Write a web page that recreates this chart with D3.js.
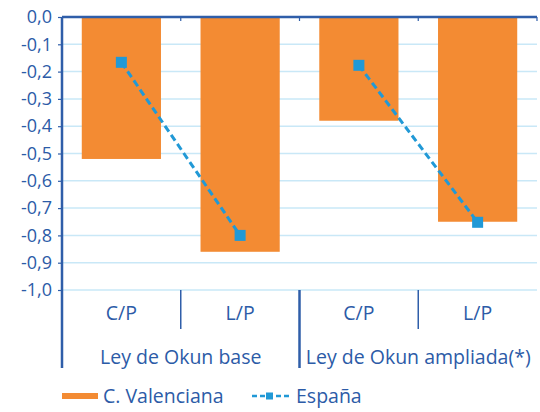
<!DOCTYPE html>
<html>
<head>
<meta charset="utf-8">
<script src="https://cdn.jsdelivr.net/npm/d3@7"></script>
<style>
  body { margin: 0; background: #fff; }
  text { font-family: "Open Sans", Lato, sans-serif; fill: #2c5ba7; }
</style>
</head>
<body>
<div id="vis"></div>
<script>
// data
const groups = ["Ley de Okun base", "Ley de Okun ampliada(*)"];
const periods = ["C/P", "L/P"];
const valenciana = [-0.52, -0.86, -0.38, -0.75];
const espana = [-0.166, -0.80, -0.177, -0.752];
const seriesNames = ["C. Valenciana", "España"];

function drawChart() {

    // ----------------
    // 1. Dimensions
    // ----------------
    const dimensions = {
        width: 540,
        height: 412,
        margin: {top: 17, right: 3, bottom: 122, left: 62}
    };
    dimensions.boundedWidth = dimensions.width - dimensions.margin.left - dimensions.margin.right;
    dimensions.boundedHeight = dimensions.height - dimensions.margin.top - dimensions.margin.bottom;

    const axisColor = "#2f5ea9";
    const gridColor = "#c9e8f7";
    const orange = "#f38b33";
    const blue = "#2199d6";
    const labelSize = 19.5;

    // one key per bar
    const keys = [];
    groups.forEach((g, gi) => periods.forEach((p, pi) => keys.push(gi + "|" + p)));
    const rows = keys.map((k, i) => ({key: k, period: k.split("|")[1], group: +k.split("|")[0], cv: valenciana[i], es: espana[i]}));

    const svg = d3.select("#vis")
        .append("svg")
        .attr("width", dimensions.width)
        .attr("height", dimensions.height);

    const bounds = svg.append("g")
        .attr("transform", `translate(${dimensions.margin.left}, ${dimensions.margin.top})`);

    // ----------------
    // 2. Scales
    // ----------------
    const xScale = d3.scaleBand()
        .domain(keys)
        .range([0, dimensions.boundedWidth])
        .paddingInner(0.333)
        .paddingOuter(0.1665);

    const xOuter = d3.scaleBand()
        .domain(keys)
        .range([0, dimensions.boundedWidth]);

    const yScale = d3.scaleLinear()
        .domain([-1, 0])
        .range([dimensions.boundedHeight, 0]);

    const locale = d3.formatLocale({decimal: ",", thousands: ".", grouping: [3], currency: ["", "€"], minus: "-"});
    const fmt = locale.format(".1f");

    // ----------------
    // 3. Grid + y axis
    // ----------------
    const yTicks = yScale.ticks(10);

    bounds.append("g")
        .selectAll("line")
        .data(yTicks.filter(d => Math.abs(d) > 1e-9))
        .join("line")
        .attr("x1", 0)
        .attr("x2", dimensions.boundedWidth)
        .attr("y1", d => yScale(d))
        .attr("y2", d => yScale(d))
        .attr("stroke", gridColor)
        .attr("stroke-width", 1.5);

    const yAxis = d3.axisLeft(yScale)
        .tickValues(yTicks)
        .tickFormat(d => fmt(Math.abs(d) < 1e-9 ? 0 : d))
        .tickSize(4)
        .tickPadding(6);

    const yAxisG = bounds.append("g").call(yAxis);
    yAxisG.select(".domain").remove();
    yAxisG.selectAll(".tick line").attr("stroke", axisColor).attr("stroke-width", 1.2);
    yAxisG.selectAll(".tick text")
        .attr("font-size", 18)
        .attr("fill", "#2c5ba7")
        .style("font-family", "'Open Sans', sans-serif");

    // ----------------
    // 4. Bars
    // ----------------
    bounds.append("g")
        .selectAll("rect")
        .data(rows)
        .join("rect")
        .attr("x", d => xScale(d.key))
        .attr("width", xScale.bandwidth())
        .attr("y", d => yScale(0))
        .attr("height", d => yScale(d.cv) - yScale(0))
        .attr("fill", orange);

    // ----------------
    // 5. España line, one segment per group
    // ----------------
    const line = d3.line()
        .x(d => xOuter(d.key) + xOuter.bandwidth() / 2)
        .y(d => yScale(d.es));

    bounds.append("g")
        .selectAll("path")
        .data(groups.map((g, gi) => rows.filter(r => r.group === gi)))
        .join("path")
        .attr("d", line)
        .attr("fill", "none")
        .attr("stroke", blue)
        .attr("stroke-width", 3)
        .attr("stroke-dasharray", "7,4");

    const mk = 11;
    bounds.append("g")
        .selectAll("rect")
        .data(rows)
        .join("rect")
        .attr("x", d => xOuter(d.key) + xOuter.bandwidth() / 2 - mk / 2)
        .attr("y", d => yScale(d.es) - mk / 2)
        .attr("width", mk)
        .attr("height", mk)
        .attr("fill", blue);

    // ----------------
    // 6. Axis lines + category labels
    // ----------------
    const h = dimensions.boundedHeight;

    // zero line on top
    bounds.append("line")
        .attr("x1", 0).attr("x2", dimensions.boundedWidth)
        .attr("y1", yScale(0)).attr("y2", yScale(0))
        .attr("stroke", axisColor).attr("stroke-width", 2.5);

    // small ticks under the zero line at band edges
    bounds.append("g")
        .selectAll("line")
        .data(keys.slice(1).map(k => xOuter(k)).concat([dimensions.boundedWidth]))
        .join("line")
        .attr("x1", d => d).attr("x2", d => d)
        .attr("y1", 0).attr("y2", 4)
        .attr("stroke", axisColor).attr("stroke-width", 1.2);

    // left axis, reaching down through the labels
    bounds.append("line")
        .attr("x1", 0).attr("x2", 0)
        .attr("y1", 0).attr("y2", h + 78)
        .attr("stroke", axisColor).attr("stroke-width", 2.5);

    // separators between periods and between groups
    bounds.append("g")
        .selectAll("line")
        .data(keys.slice(1))
        .join("line")
        .attr("x1", d => xOuter(d)).attr("x2", d => xOuter(d))
        .attr("y1", h)
        .attr("y2", d => d.endsWith("C/P") ? h + 78 : h + 39)
        .attr("stroke", axisColor)
        .attr("stroke-width", d => d.endsWith("C/P") ? 2.5 : 1.5);

    bounds.append("g")
        .selectAll("text")
        .data(rows)
        .join("text")
        .attr("x", d => xOuter(d.key) + xOuter.bandwidth() / 2)
        .attr("y", h + 23)
        .attr("dy", "0.35em")
        .attr("text-anchor", "middle")
        .attr("font-size", labelSize)
        .text(d => d.period);

    bounds.append("g")
        .selectAll("text")
        .data(groups)
        .join("text")
        .attr("x", (d, i) => xOuter(keys[i * 2]) + xOuter.bandwidth())
        .attr("y", h + 67)
        .attr("dy", "0.35em")
        .attr("text-anchor", "middle")
        .attr("font-size", labelSize)
        .text(d => d);

    // ----------------
    // 7. Legend
    // ----------------
    const legend = svg.append("g")
        .attr("transform", "translate(62, 396)");

    legend.append("rect")
        .attr("x", 0).attr("y", -3)
        .attr("width", 36).attr("height", 6)
        .attr("fill", orange);
    legend.append("text")
        .attr("x", 41).attr("dy", "0.35em")
        .attr("font-size", labelSize)
        .text(seriesNames[0]);

    legend.append("line")
        .attr("x1", 190).attr("x2", 227)
        .attr("stroke", blue).attr("stroke-width", 2.5)
        .attr("stroke-dasharray", "5,3");
    legend.append("rect")
        .attr("x", 204).attr("y", -3.5)
        .attr("width", 7).attr("height", 7)
        .attr("fill", blue);
    legend.append("text")
        .attr("x", 234).attr("dy", "0.35em")
        .attr("font-size", labelSize)
        .text(seriesNames[1]);
}

drawChart();
</script>
</body>
</html>
